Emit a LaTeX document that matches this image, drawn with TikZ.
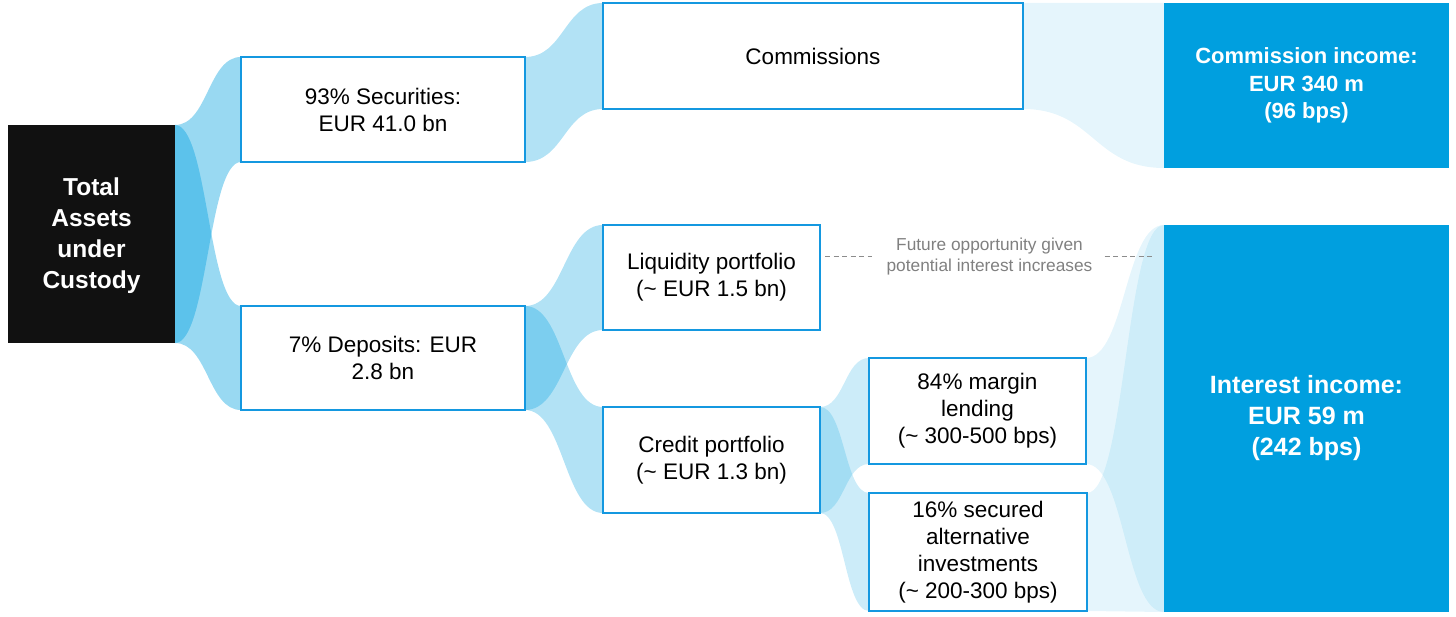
\documentclass[tikz,border=0pt]{standalone}
\usepackage{fontspec}
\setmainfont{Liberation Sans}
\usetikzlibrary{calc,backgrounds}
\definecolor{flowblue}{RGB}{0,160,223}
\definecolor{incblue}{RGB}{0,159,223}
\definecolor{edgeblue}{RGB}{20,152,224}
\definecolor{darkfill}{RGB}{17,17,17}
\definecolor{greytext}{RGB}{128,128,128}
\definecolor{greydash}{RGB}{140,140,140}
\newcommand\flowband[3]{%
  \fill[flowblue, fill opacity=#3] let \p1=(#1.north east), \p2=(#2.north west),
    \p3=(#2.south west), \p4=(#1.south east), \n1={0.5*(\x1+\x2)} in
    (\p1) .. controls (\n1,\y1) and (\n1,\y2) .. (\p2) -- (\p3)
    .. controls (\n1,\y3) and (\n1,\y4) .. (\p4) -- cycle;}
\tikzset{
  wbox/.style={draw=edgeblue, line width=2pt, fill=white, inner sep=0pt, outer sep=0pt,
    align=center, font=\fontsize{22.5}{27}\selectfont, text=black},
  darkbox/.style={fill=darkfill, inner sep=0pt, outer sep=0pt, align=center,
    text=white, font=\fontsize{24.5}{31}\selectfont\bfseries},
  incbox/.style={fill=incblue, inner sep=0pt, outer sep=0pt, align=center,
    text=white, font=\bfseries},
  dashline/.style={draw=greydash, line width=1pt, dash pattern=on 5pt off 3.5pt},
  greynote/.style={inner sep=0pt, align=center, text=greytext,
    font=\fontsize{17.3}{21}\selectfont}
}
\begin{document}
\begin{tikzpicture}[x=1pt,y=-1pt]
\useasboundingbox (0,0) rectangle (1456,617);
% nodes
\node[darkbox, minimum width=167pt, minimum height=218pt] (total) at (91.5,234)
  {\strut Total\\Assets\\under\\Custody};
\node[wbox, minimum width=284pt, minimum height=105pt] (sec) at (383,109.5)
  {93\% Securities:\\EUR 41.0 bn};
\node[wbox, minimum width=284pt, minimum height=104pt] (dep) at (383,358)
  {7\% Deposits: EUR\\2.8 bn};
\node[wbox, minimum width=420pt, minimum height=106pt] (com) at (813,56)
  {Commissions};
\node[wbox, minimum width=217pt, minimum height=105pt] (liq) at (711.5,277.5)
  {Liquidity portfolio\\(\textasciitilde{} EUR 1.5 bn)};
\node[wbox, minimum width=217pt, minimum height=106pt] (cred) at (711.5,460)
  {Credit portfolio\\(\textasciitilde{} EUR 1.3 bn)};
\node[wbox, minimum width=217pt, minimum height=106pt] (marg) at (977.5,411)
  {84\% margin\\lending\\(\textasciitilde{} 300-500 bps)};
\node[wbox, minimum width=218pt, minimum height=118pt] (secu) at (978,552)
  {16\% secured\\alternative\\investments\\(\textasciitilde{} 200-300 bps)};
\node[incbox, minimum width=285pt, minimum height=165pt,
  font=\fontsize{22}{27.5}\selectfont\bfseries] (cinc) at (1306.5,85.5)
  {Commission income:\\EUR 340 m\\(96 bps)};
\node[incbox, minimum width=285pt, minimum height=387pt,
  font=\fontsize{25}{31}\selectfont\bfseries] (iinc) at (1306.5,418.5)
  {Interest income:\\EUR 59 m\\(242 bps)};
\node[greynote] (fut) at (989.5,256.5)
  {Future opportunity given\\potential interest increases};
% dashed connectors
\draw[dashline] ([xshift=5pt]liq.east |- fut.west) -- ([xshift=-14pt]fut.west);
\draw[dashline] ([xshift=12pt]fut.east) -- ([xshift=-9pt]iinc.west |- fut.east);
% flows
\begin{pgfonlayer}{background}
\flowband{total}{sec}{0.4}
\flowband{total}{dep}{0.4}
\flowband{sec}{com}{0.3}
\flowband{com}{cinc}{0.1}
\flowband{dep}{liq}{0.3}
\flowband{dep}{cred}{0.3}
\flowband{cred}{marg}{0.2}
\flowband{cred}{secu}{0.2}
\flowband{marg}{iinc}{0.1}
\flowband{secu}{iinc}{0.1}
\end{pgfonlayer}
\end{tikzpicture}
\end{document}
